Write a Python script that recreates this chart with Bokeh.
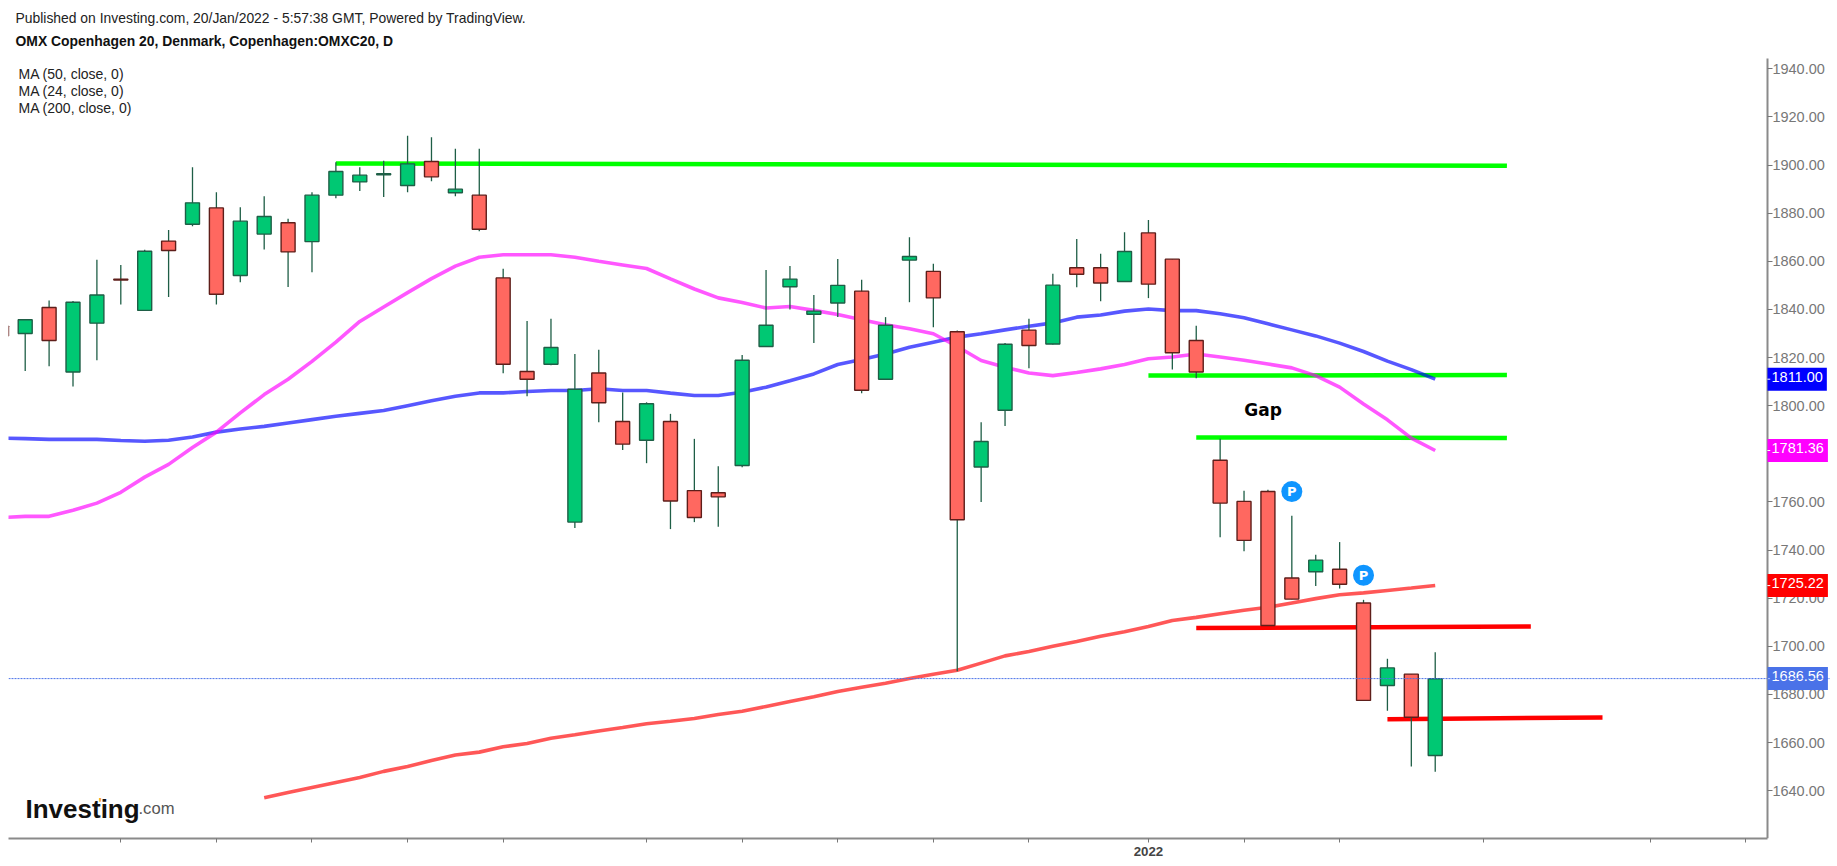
from bokeh.plotting import figure
from bokeh.models import Range1d, LinearAxis, FixedTicker, Label, Span, ColumnDataSource, NumeralTickFormatter
from bokeh.core.properties import value
from bokeh.embed import file_html
from bokeh.resources import INLINE

# Candles for index -1 .. 59
opens = [1833,1830,1840.8,1814,1834.3,1852.6,1839.6,1868.4,1875.4,1882.2,1854.1,1871.3,1876,1868.2,1887.5,1893,1896.0,1891.5,1901.5,1888.5,1887.5,
         1853.1,1814.2,1817.2,1751.6,1813.6,1793.4,1785.6,1793.4,1764.7,1763.8,1775.1,1824.6,1849.4,1838,1842.7,1847.6,1811,1860.5,1855.8,1830.7,
         1774.5,1798.1,1831.4,1825.6,1857.3,1857.3,1851.6,1871.8,1860.9,1827.1,1777.3,1760.2,1764.3,1728.4,1731,1732,1718,1683.7,1688.4,1654.6]
closes = [1829,1835.7,1827.1,1843,1846,1852.2,1864.2,1864.5,1884.3,1846.3,1876.7,1878.6,1863.9,1887.5,1897.3,1895.8,1896.4,1900.5,1895.1,1890,1873.3,
          1817.2,1811,1824.2,1806.8,1801.2,1784,1800.8,1760.4,1753.5,1762.1,1818.9,1833.4,1852.6,1839.3,1850,1806.4,1833.4,1862,1844.8,1752.6,
          1785.1,1825.5,1825,1850.1,1854.6,1851,1864.1,1850.5,1822,1814,1759.5,1744,1708.6,1719.6,1735.8,1725.8,1677.5,1691,1670.5,1686.5]
highs = [1834,1836,1843.7,1843.5,1860.6,1858.5,1864.8,1873,1899.1,1888.7,1882.5,1887,1877.7,1888.7,1901.2,1899.1,1901.8,1912.2,1911.6,1906.8,1906.8,
         1856.9,1835.2,1836.1,1821.5,1823.2,1805.5,1801.4,1796.6,1786.2,1774.8,1821.1,1856.4,1858.1,1846,1861,1852.3,1836.8,1870,1859,1831.2,
         1793.1,1826,1836.1,1854.8,1869.3,1863.1,1872.1,1877.2,1860.9,1833.2,1786.2,1764.6,1765.1,1754.2,1738,1743.3,1719.3,1694.8,1688.4,1697.5]
lows = [1828,1814.4,1816.4,1808,1818.9,1842,1839.4,1845.2,1874.6,1842,1851.3,1864.9,1849.3,1855.5,1886.2,1889.2,1886.7,1888.7,1893.3,1887,1872.5,
        1813.5,1803.9,1816.8,1749.2,1793.1,1781.6,1776.1,1748.7,1751.6,1749.7,1774.4,1824.4,1840,1826,1836.9,1805.2,1811,1843,1832.6,1689.6,
        1760,1791.6,1815.6,1825.4,1849.2,1843.4,1851.4,1844.7,1815,1811.4,1745.3,1739.5,1708.4,1719.5,1725,1724,1677.3,1673.2,1650,1647.8]
ma50 = [1786.5,1786.3,1786,1786,1786,1785.5,1785.2,1785.6,1787,1789,1790.3,1791.4,1792.8,1794.2,1795.6,1796.8,1798,1800,1802,1803.9,1805.3,
        1805.3,1805.9,1806.3,1806.3,1807,1806.3,1806.3,1805.2,1804.2,1804.2,1805.6,1807.7,1810.4,1813.2,1817.1,1819.2,1821.5,1824.3,1826.4,1828.5,
        1829.9,1831.5,1833,1834.4,1836.8,1837.7,1839.3,1840.2,1839.5,1839.5,1838.2,1836.5,1834,1831.5,1829,1826,1822.5,1818.5,1815,1811]
ma24 = [1753.5,1754,1754,1756.5,1759.5,1764,1770.3,1775.6,1782.6,1789,1797,1804.6,1811,1818.4,1826.4,1835,1841,1847,1852.8,1858,1861.7,
        1862.7,1862.7,1862.7,1861.7,1860,1858.5,1857,1852.7,1848.5,1844.8,1842.9,1840.6,1841.2,1839.6,1837.9,1835.7,1833.6,1832,1829.9,1824.6,
        1818.8,1816,1813.6,1812.5,1813.8,1815.3,1817.1,1819.5,1820.2,1821.5,1820.2,1818.9,1817.3,1815.7,1812.5,1807.7,1800.7,1794.1,1786.5,1781.36]
ma200 = [1637,1639.2,1641.3,1643.4,1645.5,1648,1650,1652.5,1654.8,1656,1658.2,1659.6,1661.8,1663.2,1664.8,1666.2,1667.8,1668.8,1670,1671.6,
         1673,1675,1677,1679,1681.2,1683,1684.6,1686.6,1688.4,1690,1693,1696,1697.8,1700,1702,1704.2,1706,1708.2,1710.7,1712,
         1713.5,1715,1716.2,1718,1719.8,1721.4,1722.2,1723.2,1724.2,1725.22]
price_ticks = list(range(1640, 1941, 20))
time_ticks = [4, 8, 12, 16, 20, 26, 30, 34, 38, 42, 47, 51, 55, 61, 68, 72]
time_labels = {47: "2022"}
green_lines = [([13, 62], [1900.7, 1899.7]), ([47, 62], [1812.5, 1812.7]), ([49, 62], [1786.8, 1786.6])]
red_lines = [([49, 63], [1707.6, 1708.2]), ([57, 66], [1669.7, 1670.4])]
p_marks_x = [53, 56]
p_marks_y = [1764.3, 1729.5]
price_tags = [(1811.00, "1811.00", "#0000FF"), (1781.36, "1781.36", "#FF00FF"),
              (1725.22, "1725.22", "#FF0000"), (1686.56, "1686.56", "#4A72E8")]
last_price = 1686.56
header_lines = ["Published on Investing.com, 20/Jan/2022 - 5:57:38 GMT, Powered by TradingView.",
                "OMX Copenhagen 20, Denmark, Copenhagen:OMXC20, D"]
legend_lines = ["MA (50, close, 0)", "MA (24, close, 0)", "MA (200, close, 0)"]

W, H = 1830, 860
LEFT, BOTTOM = 8, 838
AXIS_I = 72.9          # index where the price axis stands
AXIS_LOW, AXIS_HIGH = 1620.1, 1944.3
# The frame runs to the canvas top and right so that header and price tags are not clipped
p = figure(width=W, height=H, output_backend="svg", toolbar_location=None,
           x_range=Range1d(-0.699, 75.54), y_range=Range1d(AXIS_LOW, 1968.4),
           min_border_left=LEFT, min_border_right=0, min_border_top=0, min_border_bottom=H - BOTTOM,
           x_axis_location="below", y_axis_location=None, outline_line_color=None)
p.background_fill_color = "#ffffff"
p.border_fill_color = "#ffffff"
p.grid.visible = False

xa = p.xaxis[0]
xa.bounds = (-0.699, AXIS_I)
xa.ticker = FixedTicker(ticks=time_ticks)
xa.major_label_overrides = {t: time_labels.get(t, "") for t in time_ticks}
xa.major_label_text_font = "Liberation Sans"
xa.major_label_text_font_size = "13.3px"
xa.major_label_text_font_style = "bold"
xa.major_label_text_color = "#444444"
xa.axis_line_color = "#8a8a8a"
xa.axis_line_width = 2
xa.major_tick_line_color = "#777777"
xa.major_tick_out = 4
xa.major_tick_in = 0
xa.minor_tick_line_color = None
xa.major_label_standoff = 4

ya = LinearAxis(ticker=FixedTicker(ticks=price_ticks), fixed_location=AXIS_I, bounds=(AXIS_LOW, AXIS_HIGH))
ya.formatter = NumeralTickFormatter(format="0.00")
ya.major_label_text_font = "Liberation Sans"
ya.major_label_text_font_size = "14.5px"
ya.major_label_text_color = "#777777"
ya.axis_line_color = "#8a8a8a"
ya.axis_line_width = 2
ya.major_tick_line_color = "#777777"
ya.major_tick_out = 5
ya.major_tick_in = 0
ya.minor_tick_line_color = None
ya.major_label_standoff = 0
p.add_layout(ya, "right")

# trend lines
for xs, ys in green_lines:
    p.line(xs, ys, line_color="#00FF00", line_width=4.5, line_cap="butt")
for xs, ys in red_lines:
    p.line(xs, ys, line_color="#FF0000", line_width=4.5, line_cap="butt")

# moving averages
idx = list(range(-1, 60))
p.line(idx, ma50, line_color="#0000FF", line_alpha=0.66, line_width=3.6)
p.line(idx, ma24, line_color="#FF00FF", line_alpha=0.66, line_width=3.6)
p.line(list(range(10, 60)), ma200, line_color="#FF0000", line_alpha=0.66, line_width=3.6)

# candles
up = [c >= o for o, c in zip(opens, closes)]
src = ColumnDataSource(dict(
    x=idx, top=[max(o, c) for o, c in zip(opens, closes)], bottom=[min(o, c) for o, c in zip(opens, closes)],
    high=highs, low=lows,
    fill=["#00C873" if u else "#FF6860" for u in up],
    edge=["#1E5E46" if u else "#5E1E1A" for u in up]))
p.segment("x", "high", "x", "low", source=src, line_color="#1E5E46", line_width=1.3)
p.vbar(x="x", top="top", bottom="bottom", width=0.585, source=src, fill_color="fill", line_color="edge", line_width=1.4)

# publish markers
p.scatter(p_marks_x, p_marks_y, size=21, marker="circle", fill_color="#0F95FF", line_color=None)
p.text(p_marks_x, p_marks_y, text=["P", "P"], text_color="#FFFFFF", text_font=value("DejaVu Sans"),
       text_font_style="bold", text_font_size="13px", text_align="center", text_baseline="middle")

p.text([51.8], [1798], text=["Gap"], text_color="#000000", text_font=value("DejaVu Sans"),
       text_font_style="bold", text_font_size="17px", text_align="center", text_baseline="middle")

p.add_layout(Span(location=last_price, dimension="width", line_color="#4A72E8", line_width=1, line_dash="2 1", level="overlay"))

def txt(px, py, t, **kw):
    # screen units here are measured from the frame's lower-left corner
    base = dict(x_units="screen", y_units="screen", text_font="Liberation Sans", text_font_size="14px",
                text_baseline="middle", text_color="#222222")
    base.update(kw)
    p.add_layout(Label(x=px - LEFT, y=BOTTOM - py, text=t, **base))

txt(15, 17, header_lines[0], text_font_size="13.9px")
txt(15, 40, header_lines[1], text_font_size="13.9px", text_font_style="bold", text_color="#111111")
for t, py in zip(legend_lines, [73, 90, 107]):
    txt(18, py, t)

txt(25, 808, "Investing", text_font_style="bold", text_font_size="26px", text_color="#111111", text_baseline="alphabetic")
txt(138, 808, ".com", text_font_size="16.6px", text_color="#555555", text_baseline="alphabetic")
txt(98, 802, "'", text_font_style="bold", text_font_size="14px", text_color="#F7A11A", text_baseline="alphabetic")

for v, t, c in price_tags:
    p.add_layout(Label(x=1767 - LEFT, y=v, x_units="screen", y_units="data", text=t, text_color="#FFFFFF",
                       text_font="Liberation Sans", text_font_size="14.5px", text_baseline="middle", text_align="left",
                       background_fill_color=c, padding=(4, 4, 4, 9)))
tag_values = [tag[0] for tag in price_tags]
p.segment([AXIS_I] * 4, tag_values, [AXIS_I + 0.12] * 4, tag_values, line_color="#FFFFFF", line_width=1, level="overlay")

open("out.html", "w").write(file_html(p, INLINE))
